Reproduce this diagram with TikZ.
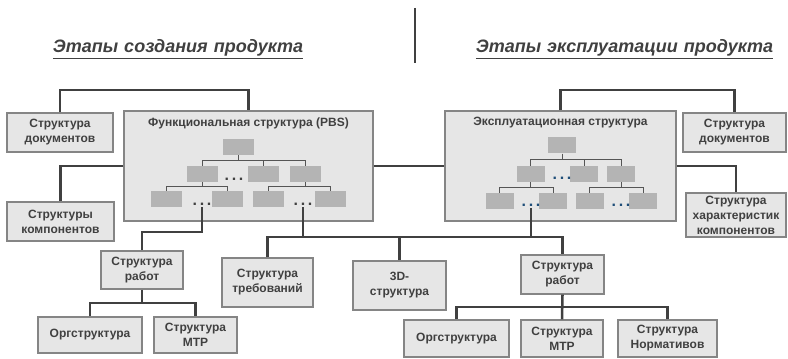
\documentclass[tikz,border=0pt]{standalone}
\usepackage{fontspec}
\setmainfont{Liberation Sans}
\usetikzlibrary{positioning,calc}
\definecolor{ink}{HTML}{404040}
\definecolor{boxfill}{HTML}{E6E6E6}
\definecolor{boxline}{HTML}{858585}
\definecolor{minifill}{HTML}{B4B4B4}
\definecolor{treeline}{HTML}{555555}
\definecolor{dotblue}{HTML}{1F4E79}

\begin{document}
\begin{tikzpicture}[x=0.75pt,y=-0.75pt]
		\tikzstyle{block}=[rectangle, draw=boxline, fill=boxfill, line width=0.9pt, inner sep=0pt, align=center, text=ink, font=\fontsize{9}{11.2}\selectfont\bfseries]
		\tikzstyle{mini}=[rectangle, fill=minifill, inner sep=0pt, minimum width=23.25pt, minimum height=12pt]
		\tikzstyle{minio}=[mini, minimum width=21pt]
		\tikzstyle{dots}=[inner sep=1.5pt, text=ink, font=\fontsize{12}{12}\selectfont\bfseries]
		\tikzstyle{link}=[line width=1.9pt, draw=ink]
		\tikzstyle{tree}=[line width=0.75pt, draw=treeline, to path={-- ($(\tikztostart)!.5!(\tikztostart |- \tikztotarget)$) -| (\tikztotarget)}]
		\tikzstyle{head}=[inner sep=0pt, anchor=base, text=ink, font=\fontsize{13.5}{16}\selectfont\bfseries\itshape]
		\useasboundingbox (0,0) rectangle (788,359);
		\node[head] (titl) at (178,53) {\underline{Этапы\hspace{4.5pt}создания\hspace{4.5pt}продукта}};
		\node[head] (titr) at (624.5,53) {\underline{Этапы\hspace{4.5pt}эксплуатации\hspace{4.5pt}продукта}};
		\coordinate (sepa) at (415,8);
		\coordinate (sepb) at (415,63);
		\draw[link] (sepa) -- (sepb);
		% upper row
		\node[block, minimum width=79.5pt, minimum height=29.25pt] (docl) at (60,132.5) {Структура\\документов};
		\node[block, minimum width=80.25pt, minimum height=29.25pt] (comp) at (60.5,221.5) {Структуры\\компонентов};
		\node[block, minimum width=186.75pt, minimum height=82.5pt] (pbs) at (248.5,166) {};
		\node[block, minimum width=173.25pt, minimum height=82.5pt] (ops) at (560.5,166) {};
		\node[block, minimum width=77.25pt, minimum height=29.25pt] (docr) at (734.5,132.5) {Структура\\документов};
		\node[block, minimum width=75pt, minimum height=33pt] (chars) at (736,215) {Структура\\характеристик\\компонентов};
		\node[block, draw=none, fill=none] (pbst) at (248.5,123) {Функциональная структура (PBS)};
		\node[block, draw=none, fill=none] (opst) at (560.5,123) {Эксплуатационная структура};
		% small tree, left
		\node[mini] (p0) at (238.5,147) {};
		\node[mini] (p1) at (202,174) {};
		\node[mini] (p2) at (263.5,174) {};
		\node[mini] (p3) at (305.5,174) {};
		\node[mini] (p11) at (166.5,199.5) {};
		\node[mini] (p12) at (227.5,199.5) {};
		\node[mini] (p31) at (268.5,199.5) {};
		\node[mini] (p32) at (330.5,199.5) {};
		\node[dots] (pd) at (234,179) {.\,.\,.};
		\node[dots] (da) at (202,204) {.\,.\,.};
		\node[dots] (db) at (303,204) {.\,.\,.};
		% small tree, right
		\node[minio] (e0) at (562,145.5) {};
		\node[minio] (e1) at (530.5,174) {};
		\node[minio] (e2) at (584,174) {};
		\node[minio] (e3) at (621,174) {};
		\node[minio] (e11) at (499.5,201) {};
		\node[minio] (e12) at (553,201) {};
		\node[minio] (e31) at (589.5,201) {};
		\node[minio] (e32) at (643,201) {};
		\node[dots, text=dotblue] (ed) at (562,178) {.\,.\,.};
		\node[dots, text=dotblue] (dc) at (531,205) {.\,.\,.};
		\node[dots, text=dotblue] (de) at (621,205) {.\,.\,.};
		\path (p0.south) edge[tree] (p1.north) edge[tree] (p2.north) edge[tree] (p3.north)
			(p1.south) edge[tree] (p11.north) edge[tree] (p12.north)
			(p3.south) edge[tree] (p31.north) edge[tree] (p32.north)
			(e0.south) edge[tree] (e1.north) edge[tree] (e2.north) edge[tree] (e3.north)
			(e1.south) edge[tree] (e11.north) edge[tree] (e12.north)
			(e3.south) edge[tree] (e31.north) edge[tree] (e32.north);
		% lower rows
		\node[block, minimum width=61.5pt, minimum height=28.5pt] (workl) at (142,270) {Структура\\работ};
		\node[block, minimum width=68.25pt, minimum height=36.75pt] (req) at (267.5,282.5) {Структура\\требований};
		\node[block, minimum width=69.75pt, minimum height=36.75pt] (geo) at (399.5,285.5) {3D-\\структура};
		\node[block, minimum width=62.25pt, minimum height=29.25pt] (workr) at (562.5,274.5) {Структура\\работ};
		\node[block, minimum width=78pt, minimum height=27pt] (orgl) at (90,335) {Оргструктура};
		\node[block, minimum width=62.25pt, minimum height=27pt] (mtrl) at (195.5,335) {Структура\\МТР};
		\node[block, minimum width=78.75pt, minimum height=27.75pt] (orgr) at (456.5,338.5) {Оргструктура};
		\node[block, minimum width=61.5pt, minimum height=27.75pt] (mtrr) at (562,338.5) {Структура\\МТР};
		\node[block, minimum width=74.25pt, minimum height=27.75pt] (norm) at (667.5,338.5) {Структура\\Нормативов};
		% connectors
		\coordinate (topl) at (150,90);
		\coordinate (topr) at (650,90);
		\coordinate (busl) at (170,232);
		\coordinate (busm) at (400,237);
		\coordinate (busb) at (140,303);
		\coordinate (busc) at (560,307);
		\draw[link] (docl.north) |- (topl) -| (pbs.north);
		\draw[link] (pbs.west) -| (comp.north);
		\draw[link] (pbs.east) -- (ops.west);
		\draw[link] (ops.north) |- (topr) -| (docr.north);
		\draw[link] (ops.east) -| (chars.north);
		\draw[link] (da.south) |- (busl) -| (workl.north);
		\draw[link] (req.north) |- (busm) -| (workr.north);
		\draw[link] (db.south) -- (db.south |- busm);
		\draw[link] (dc.south) -- (dc.south |- busm);
		\draw[link] (geo.north) -- (geo.north |- busm);
		\draw[link] (orgl.north) |- (busb) -| (mtrl.north);
		\draw[link] (workl.south) -- (workl.south |- busb);
		\draw[link] (orgr.north) |- (busc) -| (norm.north);
		\draw[link] (workr.south) -- (mtrr.north);
\end{tikzpicture}
\end{document}
